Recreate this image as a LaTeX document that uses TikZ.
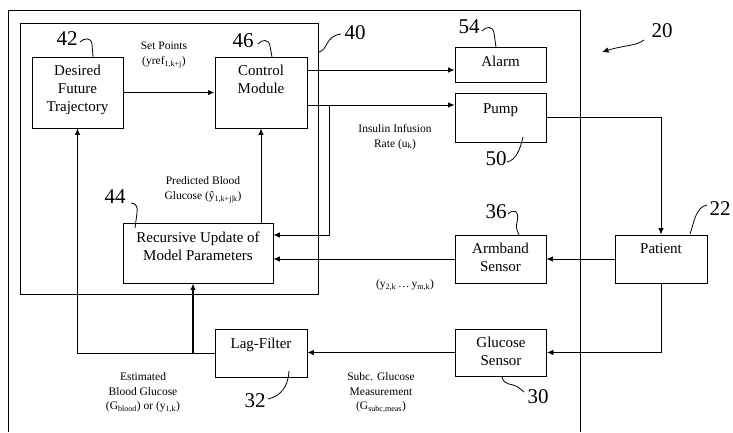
\documentclass[tikz,border=0pt]{standalone}
\usepackage{fontspec}
\setmainfont{Liberation Serif}
\usetikzlibrary{arrows.meta}

\tikzset{
  blk/.style={draw, line width=0.9pt, align=center, inner sep=2pt, font=\fontsize{15}{18}\selectfont},
  note/.style={align=center, font=\fontsize{11.5}{14.5}\selectfont},
  refnum/.style={font=\fontsize{21}{21}\selectfont},
  arr/.style={-{Latex[length=6.5pt,width=5.5pt]}, line width=0.8pt},
  heavy/.style={line width=1.5pt},
  lead/.style={line width=0.8pt},
}

\begin{document}
\begin{tikzpicture}[x=1pt, y=-1pt]
  \useasboundingbox (0,0) rectangle (733,432);
  \fill[white] (0,0) rectangle (733,432);

  % === ENCLOSURES: system 20 and controller 40 ===
  \draw[line width=0.9pt] (8,432) |- (580,10) -- (580,432);
  \draw[line width=0.9pt] (20,23) rectangle (318,294);

  % === BLOCKS ===
  \node[blk, minimum width=91pt, minimum height=71pt, text depth=8pt] (traj) at (77.5,92.5) {Desired\\Future\\Trajectory};
  \node[blk, minimum width=92pt, minimum height=71pt, text depth=26pt] (ctrl) at (261,92.5) {Control\\Module};
  \node[blk, minimum width=150pt, minimum height=60pt, text depth=14pt] (update) at (198,253) {Recursive Update of\\Model Parameters};
  \node[blk, minimum width=91pt, minimum height=35pt, text depth=6pt] (alarm) at (500.5,64.5) {Alarm};
  \node[blk, minimum width=91pt, minimum height=49pt, text depth=18pt] (pump) at (500.5,117.5) {Pump};
  \node[blk, minimum width=91pt, minimum height=48pt, text depth=4pt] (armband) at (500.5,259) {Armband\\Sensor};
  \node[blk, minimum width=92pt, minimum height=48pt, text depth=21pt] (patient) at (661,259) {Patient};
  \node[blk, minimum width=91pt, minimum height=47pt, text depth=3pt] (glucose) at (501,352.5) {Glucose\\Sensor};
  \node[blk, minimum width=92pt, minimum height=48pt, text depth=19pt] (lag) at (261,353) {Lag-Filter};

  % === SIGNALS ===
  \coordinate (alarmin) at ([yshift=-5.5pt]alarm.west);
  \coordinate (pumpin) at ([yshift=12.5pt]pump.west);
  \coordinate (tap) at (329,105);

  \draw[arr, heavy] (traj.east) -- (ctrl.west);
  \draw[arr] (ctrl.east |- alarmin) -- (alarmin);
  \draw[arr] (ctrl.east |- pumpin) -- (pumpin);
  \draw[arr] (tap) |- ([yshift=18pt]update.east);
  \draw[arr] (pump.east) -| (patient.north);
  \draw[arr] (patient.west) -- (armband.east);
  \draw[arr] (armband.west) -- (armband.west -| update.east);
  \draw[arr] (patient.south) |- (glucose.east);
  \draw[arr] (glucose.west) -- (glucose.west -| lag.east);
  \draw[arr] (lag.west) -| (traj.south);
  \draw[arr, heavy] ([xshift=-5pt]update.south |- lag.west) -- ([xshift=-5pt]update.south);
  \draw[arr] (update.north -| ctrl.south) -- (ctrl.south);

  % === SIGNAL LABELS ===
  \node[note] (setpts) at (164,55) {Set Points\\(yref\textsubscript{1,k+j})};
  \node[note] (predbg) at (203,190) {Predicted Blood\\Glucose (ŷ\textsubscript{1,k+j|k})};
  \node[note] (insulin) at (395,137) {Insulin Infusion\\Rate (u\textsubscript{k})};
  \node[note] (armsig) at (405,285) {(y\textsubscript{2,k}\,\ldots\,y\textsubscript{m,k})};
  \node[note] (estbg) at (143,393) {Estimated\\Blood Glucose\\(G\textsubscript{blood}) or (y\textsubscript{1,k})};
  \node[note] (subcbg) at (381,393) {Subc. Glucose\\Measurement\\(G\textsubscript{subc,meas})};

  % === REFERENCE NUMERALS ===
  \node[refnum] (n42) at (67,39) {42};
  \draw[lead] (80,42) .. controls (84,38) and (91,37) .. (92,44) -- (93,57);
  \node[refnum] (n46) at (243,41) {46};
  \draw[lead] (258,44) .. controls (262,39) and (269,39) .. (270,46) -- (272,57);
  \node[refnum] (n40) at (355,33) {40};
  \draw[lead] (319,52) .. controls (328,50) and (325,36) .. (341,34);
  \node[refnum] (n54) at (469,27) {54};
  \draw[lead] (482,31) .. controls (486,26) and (493,26) .. (494,33) -- (496,47);
  \node[refnum] (n20) at (662,31) {20};
  \draw[arr] (644,40) .. controls (636,46) and (625,45) .. (602,52);
  \node[refnum] (n50) at (496,159) {50};
  \draw[lead] (507,162) .. controls (516,160) and (520,150) .. (523,137);
  \node[refnum] (n36) at (496,212) {36};
  \draw[lead] (508,214) .. controls (513,209) and (520,210) .. (517,222) .. controls (515,228) and (518,232) .. (519,235);
  \node[refnum] (n22) at (720,209) {22};
  \draw[lead] (690,234) .. controls (694,222) and (696,207) .. (707,205);
  \node[refnum] (n44) at (115,197) {44};
  \draw[lead] (131,203) .. controls (136,203) and (138,207) .. (137,213) -- (135,228);
  \node[refnum] (n32) at (255,401) {32};
  \draw[lead] (268,399) .. controls (280,396) and (288,388) .. (289,371);
  \node[refnum] (n30) at (538,397) {30};
  \draw[lead] (502,377) .. controls (504,386) and (512,383) .. (518,387) -- (524,392);
\end{tikzpicture}
\end{document}
